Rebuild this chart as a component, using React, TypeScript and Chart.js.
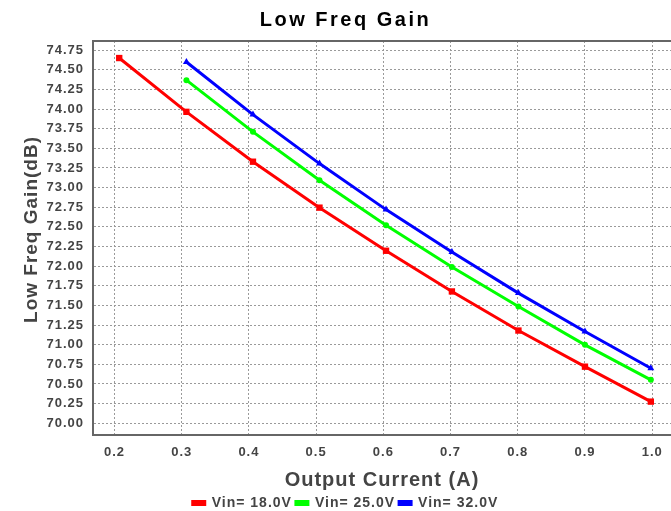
import React, { useEffect, useRef } from 'react';
import Chart from 'chart.js/auto';

const CHART_TITLE = 'Low Freq Gain';
const X_TITLE = 'Output Current (A)';
const Y_TITLE = 'Low Freq Gain(dB)';
const SERIES_NAMES = ['Vin= 18.0V', 'Vin= 25.0V', 'Vin= 32.0V'];
const SERIES_COLORS = ['#ff0000', '#00ff00', '#0000ff'];
const SERIES_POINTS = ['rect', 'circle', 'triangle'];
const SERIES_RADII = [4.5, 3, 4];

const CURRENT_18V = [0.207, 0.307, 0.406, 0.505, 0.604, 0.702, 0.801, 0.9, 0.998];
const GAIN_18V = [74.65, 73.965, 73.33, 72.745, 72.196, 71.678, 71.18, 70.72, 70.275];
const CURRENT_25V = [0.307, 0.406, 0.505, 0.604, 0.702, 0.801, 0.9, 0.998];
const GAIN_25V = [74.368, 73.71, 73.095, 72.52, 71.99, 71.486, 70.998, 70.552];
const CURRENT_32V = [0.307, 0.406, 0.505, 0.604, 0.702, 0.801, 0.9, 0.998];
const GAIN_32V = [74.6, 73.93, 73.306, 72.72, 72.18, 71.657, 71.168, 70.7];

const X_TICKS = [0.2, 0.3, 0.4, 0.5, 0.6, 0.7, 0.8, 0.9, 1.0];
const Y_TICKS = [
  70.0, 70.25, 70.5, 70.75, 71.0, 71.25, 71.5, 71.75, 72.0, 72.25,
  72.5, 72.75, 73.0, 73.25, 73.5, 73.75, 74.0, 74.25, 74.5, 74.75,
];
const X_MIN = 0.168;
const X_MAX = 1.028;
const Y_MIN = 69.85;
const Y_MAX = 74.867;

const FONT = "'Liberation Sans', Arial, Helvetica, sans-serif";
const TEXT_COLOR = '#444444';
const GRID_COLOR = '#9a9a9a';
const FRAME_COLOR = '#666666';

export default function App() {
  const ref = useRef<HTMLCanvasElement>(null);

  useEffect(() => {
    const canvas = ref.current;
    if (!canvas) return;

    const seriesX = [CURRENT_18V, CURRENT_25V, CURRENT_32V];
    const seriesY = [GAIN_18V, GAIN_25V, GAIN_32V];

    const datasets = SERIES_NAMES.map((name, s) => ({
      label: name,
      data: seriesX[s].map((x, i) => ({ x, y: seriesY[s][i] })),
      borderColor: SERIES_COLORS[s],
      backgroundColor: SERIES_COLORS[s],
      pointBackgroundColor: SERIES_COLORS[s],
      pointBorderColor: SERIES_COLORS[s],
      pointBorderWidth: 0,
      pointStyle: SERIES_POINTS[s],
      pointRadius: SERIES_RADII[s],
      borderWidth: 3,
      tension: 0,
      fill: false,
    }));

    const spacingPlugin = {
      id: 'spacing',
      beforeUpdate(c: any) {
        c.ctx.letterSpacing = '1px';
      },
      beforeDraw(c: any) {
        c.ctx.letterSpacing = '1px';
      },
    };

    const framePlugin = {
      id: 'frame',
      beforeDatasetsDraw(c: any) {
        const { ctx, chartArea: a } = c;
        ctx.save();
        ctx.strokeStyle = FRAME_COLOR;
        ctx.lineWidth = 2;
        ctx.beginPath();
        ctx.moveTo(a.left - 1, a.top);
        ctx.lineTo(a.right, a.top);
        ctx.stroke();
        ctx.restore();
      },
      afterDraw(c: any) {
        const { ctx, chartArea: a, legend, scales } = c;
        ctx.save();
        ctx.letterSpacing = '2.5px';
        ctx.font = `bold 20px ${FONT}`;
        ctx.fillStyle = '#000000';
        ctx.textAlign = 'center';
        ctx.textBaseline = 'middle';
        ctx.fillText(CHART_TITLE, (legend.left + legend.right) / 2, a.top / 2);
        ctx.restore();

        // y-axis title, rotated, set slightly above the plot's vertical centre
        const ys = scales.y;
        ctx.save();
        ctx.letterSpacing = '1px';
        ctx.font = `bold 19px ${FONT}`;
        ctx.fillStyle = TEXT_COLOR;
        ctx.textAlign = 'center';
        ctx.textBaseline = 'middle';
        ctx.translate(ys.left + 11.5, (a.top + a.bottom) / 2 - 8.5);
        ctx.rotate(-Math.PI / 2);
        ctx.fillText(Y_TITLE, 0, 0);
        ctx.restore();
      },
    };

    const chart = new Chart(canvas, {
      type: 'line',
      data: { datasets },
      plugins: [spacingPlugin, framePlugin],
      options: {
        responsive: false,
        animation: false,
        devicePixelRatio: 1,
        layout: { autoPadding: false, padding: { left: 20, right: 0, top: 41, bottom: -9 } },
        plugins: {
          title: { display: false },
          tooltip: { enabled: false },
          legend: {
            display: true,
            position: 'bottom',
            labels: {
              boxWidth: 12,
              boxHeight: 3,
              padding: 4,
              color: TEXT_COLOR,
              font: { family: FONT, size: 14, weight: 'bold' },
            },
          },
        },
        scales: {
          x: {
            type: 'linear',
            min: X_MIN,
            max: X_MAX,
            afterBuildTicks: (scale: any) => {
              scale.ticks = X_TICKS.map((v) => ({ value: v }));
            },
            afterFit: (scale: any) => {
              scale.height = 57;
              scale.paddingLeft = 0;
              scale.paddingRight = 0;
            },
            ticks: {
              padding: 10,
              color: TEXT_COLOR,
              font: { family: FONT, size: 13, weight: 'bold' },
              callback: (v: any) => Number(v).toFixed(1),
              maxRotation: 0,
              autoSkip: false,
            },
            grid: { color: GRID_COLOR, lineWidth: 1, drawTicks: false },
            border: { display: true, color: FRAME_COLOR, width: 2, dash: [2, 2] },
            title: {
              display: true,
              text: X_TITLE,
              color: TEXT_COLOR,
              font: { family: FONT, size: 20, weight: 'bold' },
              padding: { top: 0, bottom: 0 },
            },
          },
          y: {
            type: 'linear',
            min: Y_MIN,
            max: Y_MAX,
            afterBuildTicks: (scale: any) => {
              scale.ticks = Y_TICKS.map((v) => ({ value: v }));
            },
            afterFit: (scale: any) => {
              scale.width = 73;
            },
            ticks: {
              padding: 9,
              color: TEXT_COLOR,
              font: { family: FONT, size: 13, weight: 'bold' },
              callback: (v: any) => Number(v).toFixed(2),
              autoSkip: false,
            },
            grid: { color: GRID_COLOR, lineWidth: 1, drawTicks: false },
            border: { display: true, color: FRAME_COLOR, width: 2, dash: [2, 2] },
            title: { display: false, text: Y_TITLE },
          },
        },
      },
    } as any);

    return () => chart.destroy();
  }, []);

  return (
    <div style={{ position: 'absolute', left: 0, top: 0, width: 671, height: 511, background: '#ffffff' }}>
      <canvas ref={ref} width={671} height={511} style={{ display: 'block' }} />
    </div>
  );
}
